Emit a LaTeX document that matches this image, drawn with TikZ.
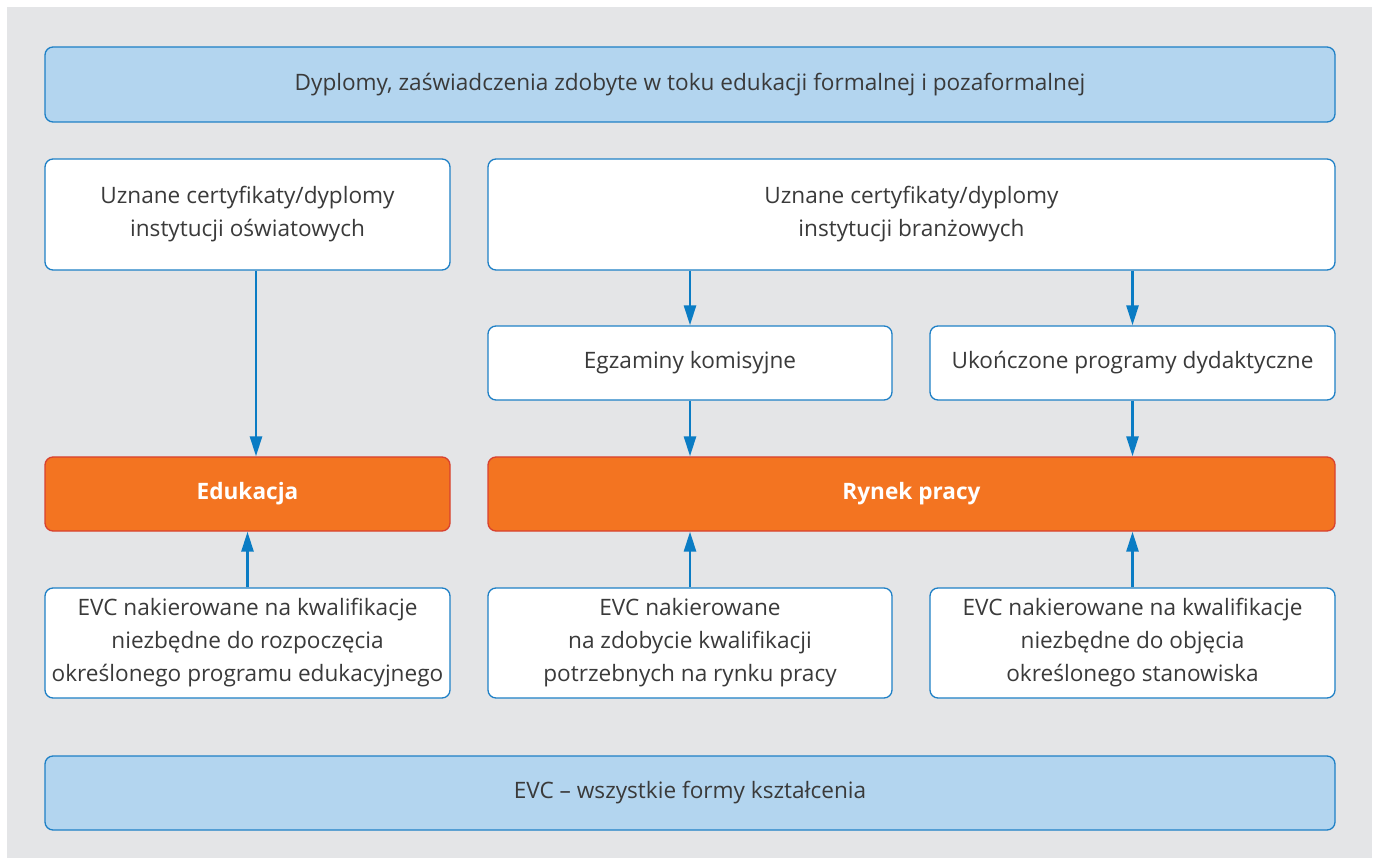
\documentclass[tikz,border=0pt]{standalone}
\usepackage{fontspec}
\setmainfont{Open Sans}
\usetikzlibrary{arrows.meta}
\definecolor{bg}{HTML}{E4E5E7}
\definecolor{bord}{HTML}{1E80C6}
\definecolor{lblue}{HTML}{B3D5EF}
\definecolor{orng}{HTML}{F37421}
\definecolor{ored}{HTML}{D8412F}
\definecolor{arrc}{HTML}{0A7CC4}
\definecolor{txt}{HTML}{3A3A3A}
\tikzset{
  box/.style={draw=bord, line width=1.3pt, rounded corners=8pt, fill=white,
    align=center, text=txt, font=\fontsize{22.6}{33}\selectfont, inner sep=0pt},
  bluebox/.style={box, fill=lblue},
  orangebox/.style={box, fill=orng, draw=ored, text=white, font=\fontsize{22.6}{33}\selectfont\bfseries},
  arr/.style={draw=arrc, line width=2.6pt, -{Triangle[length=20pt,width=12pt]}},
}
\begin{document}
\begin{tikzpicture}[x=1pt,y=-1pt]
\useasboundingbox (0,0) rectangle (1374,858);
\fill[bg] (7,7) rectangle (1372,858);
% row 1
\node[bluebox, minimum width=1290pt, minimum height=75pt] (top) at (690,84.5) {Dyplomy, zaświadczenia zdobyte w toku edukacji formalnej i pozaformalnej};
% row 2
\node[box, minimum width=405pt, minimum height=111pt] (osw) at (247.5,214.5) {Uznane certyfikaty/dyplomy\\instytucji oświatowych};
\node[box, minimum width=847pt, minimum height=111pt] (bra) at (911.5,214.5) {Uznane certyfikaty/dyplomy\\instytucji branżowych};
% row 3
\node[box, minimum width=404pt, minimum height=74pt] (egz) at (690,363) {Egzaminy komisyjne};
\node[box, minimum width=405pt, minimum height=74pt] (ukn) at (1132.5,363) {Ukończone programy dydaktyczne};
% row 4
\node[orangebox, minimum width=405pt, minimum height=74pt] (edu) at (247.5,494) {Edukacja};
\node[orangebox, minimum width=847pt, minimum height=74pt] (ryn) at (911.5,494) {Rynek pracy};
% row 5
\node[box, minimum width=405pt, minimum height=110pt] (e1) at (247.5,643) {EVC nakierowane na kwalifikacje\\niezbędne do rozpoczęcia\\określonego programu edukacyjnego};
\node[box, minimum width=404pt, minimum height=110pt] (e2) at (690,643) {EVC nakierowane\\na zdobycie kwalifikacji\\potrzebnych na rynku pracy};
\node[box, minimum width=405pt, minimum height=110pt] (e3) at (1132.5,643) {EVC nakierowane na kwalifikacje\\niezbędne do objęcia\\określonego stanowiska};
% bottom
\node[bluebox, minimum width=1290pt, minimum height=74pt] (bot) at (690,793) {EVC – wszystkie formy kształcenia};
% arrows
\draw[arr] ([xshift=8.5pt]osw.south) -- ([xshift=8.5pt]edu.north);
\draw[arr] (bra.south -| egz.north) -- (egz.north);
\draw[arr] (bra.south -| ukn.north) -- (ukn.north);
\draw[arr] (egz.south) -- (egz.south |- ryn.north);
\draw[arr] (ukn.south) -- (ukn.south |- ryn.north);
\draw[arr] (e1.north) -- (edu.south);
\draw[arr] (e2.north) -- (e2.north |- ryn.south);
\draw[arr] (e3.north) -- (e3.north |- ryn.south);
\end{tikzpicture}
\end{document}
